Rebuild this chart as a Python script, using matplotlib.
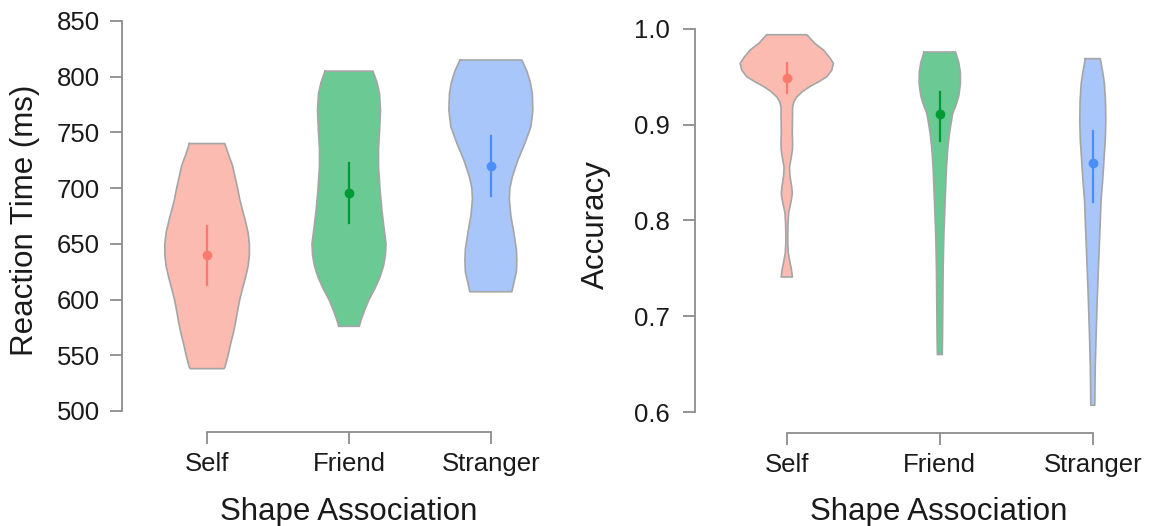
import numpy as np
import matplotlib
matplotlib.use("Agg")
import matplotlib.pyplot as plt

plt.rcParams['font.family'] = ['Liberation Sans', 'DejaVu Sans']

groups = ["Self", "Friend", "Stranger"]

# reaction time: violin outlines (value, half width in category units)
rt_y = {
    "Self": [740, 730, 720, 710, 700, 690, 680, 670, 660, 650, 640, 630, 620, 610, 600, 590, 580, 570, 560, 550, 540, 538],
    "Friend": [805, 795, 785, 770, 750, 735, 720, 700, 680, 665, 650, 640, 630, 620, 610, 600, 590, 580, 576],
    "Stranger": [815, 805, 795, 785, 770, 755, 740, 725, 710, 700, 690, 675, 660, 645, 635, 625, 615, 607],
}
rt_w = {
    "Self": [.125, .151, .180, .197, .215, .230, .250, .271, .289, .298, .298, .289, .271, .250, .230, .215, .201, .185, .165, .148, .127, .120],
    "Friend": [.169, .197, .215, .222, .215, .208, .208, .218, .232, .246, .261, .257, .243, .218, .183, .141, .109, .081, .073],
    "Stranger": [.218, .254, .278, .292, .296, .282, .239, .190, .151, .134, .130, .141, .162, .180, .183, .180, .162, .148],
}
rt_mean = [640, 696, 720]
rt_lo = [613, 669, 693]
rt_hi = [666, 723, 747]

# accuracy
acc_y = {
    "Self": [0.994, 0.985, 0.978, 0.970, 0.964, 0.957, 0.950, 0.945, 0.940, 0.935, 0.929, 0.924, 0.919,
             0.905, 0.891, 0.882, 0.874, 0.865, 0.856, 0.848, 0.842, 0.835, 0.828, 0.820, 0.808, 0.797,
             0.787, 0.776, 0.766, 0.757, 0.750, 0.741],
    "Friend": [0.976, 0.965, 0.955, 0.943, 0.930, 0.920, 0.912, 0.900, 0.891, 0.875, 0.856, 0.821, 0.787,
               0.752, 0.717, 0.682, 0.660],
    "Stranger": [0.969, 0.955, 0.943, 0.925, 0.905, 0.885, 0.863, 0.843, 0.821, 0.787, 0.752, 0.717, 0.682,
                 0.647, 0.607],
}
acc_w = {
    "Self": [.131, .183, .240, .281, .305, .294, .261, .209, .152, .105, .065, .046, .038,
             .037, .036, .038, .037, .028, .018, .020, .025, .032, .036, .028, .012, .008,
             .0065, .0065, .010, .020, .029, .037],
    "Friend": [.103, .124, .134, .135, .124, .105, .085, .072, .063, .052, .044, .035, .027,
               .022, .020, .018, .016],
    "Stranger": [.049, .065, .076, .083, .085, .082, .073, .065, .054, .046, .037, .029, .022,
                 .016, .013],
}
acc_mean = [0.949, 0.911, 0.860]
acc_lo = [0.933, 0.883, 0.819]
acc_hi = [0.964, 0.934, 0.893]

fill_cols = ['#FBBBB1', '#6BC994', '#A9C6FB']
pt_cols = ['#FA7B6E', '#009A35', '#4B8EF5']
edge_col = '#A5A5A5'
axis_col = '#8c8c8c'
text_col = '#1a1a1a'

W, H = 1154, 526
fig = plt.figure(figsize=(W / 100, H / 100), dpi=100)


def px_axes(x0, x1, ytop, ybot):
    return fig.add_axes([x0 / W, 1 - ybot / H, (x1 - x0) / W, (ybot - ytop) / H])


def draw(ax, ys, ws, means, lo, hi):
    for i, g in enumerate(groups):
        c = i + 1
        y = np.array(ys[g])
        w = np.array(ws[g])
        ax.fill_betweenx(y, c - w, c + w, facecolor=fill_cols[i], edgecolor='none', zorder=2)
        xs = np.concatenate([c - w, (c + w)[::-1], [(c - w)[0]]])
        yy = np.concatenate([y, y[::-1], [y[0]]])
        ax.plot(xs, yy, color=edge_col, lw=1.2, zorder=3, solid_joinstyle='round')
        ax.plot([c, c], [lo[i], hi[i]], color=pt_cols[i], lw=1.6, zorder=4)
        ax.plot(c, means[i], 'o', color=pt_cols[i], ms=6, zorder=5)


def style(ax, ylo, yhi, ticks, ticklabels, ylabel, ypad):
    for s in ['top', 'right']:
        ax.spines[s].set_visible(False)
    for s in ['left', 'bottom']:
        ax.spines[s].set_color(axis_col)
        ax.spines[s].set_linewidth(1.3)
    ax.spines['bottom'].set_position(('outward', 15))
    ax.spines['bottom'].set_bounds(1, 3)
    ax.spines['left'].set_bounds(ylo, yhi)
    ax.set_ylim(ylo, yhi)
    ax.set_yticks(ticks)
    ax.set_yticklabels(ticklabels)
    ax.set_xticks([1, 2, 3])
    ax.set_xticklabels(groups)
    ax.tick_params(axis='y', length=9, width=1.3, color=axis_col, labelsize=18.5,
                   labelcolor=text_col, pad=ypad)
    ax.tick_params(axis='x', length=8.5, width=1.3, color=axis_col, labelsize=18.5,
                   labelcolor=text_col, pad=6)
    ax.set_xlabel("Shape Association", fontsize=22.5, color=text_col)
    ax.set_ylabel(ylabel, fontsize=22.5, color=text_col)


# left panel: reaction time
ax1 = px_axes(122, 576, 21, 411)
ax1.set_xlim(0.4, 3.6)
draw(ax1, rt_y, rt_w, rt_mean, rt_lo, rt_hi)
rt_ticks = [500, 550, 600, 650, 700, 750, 800, 850]
style(ax1, 500, 850, rt_ticks, [str(t) for t in rt_ticks], "Reaction Time (ms)", 7)
ax1.xaxis.set_label_coords((349 - 122) / 454, (411 - 497) / 390)
ax1.yaxis.set_label_coords((40 - 122) / 454, 0.5 - (220 - 216) / 390)

# right panel: accuracy
ax2 = px_axes(695, 1154, 29, 412)
ax2.set_xlim(0.4, 0.4 + 459 / 153)
draw(ax2, acc_y, acc_w, acc_mean, acc_lo, acc_hi)
acc_ticks = [0.6, 0.7, 0.8, 0.9, 1.0]
style(ax2, 0.6, 1.0, acc_ticks, ["%.1f" % t for t in acc_ticks], "Accuracy", 9)
ax2.xaxis.set_label_coords((939 - 695) / 459, (412 - 497) / 383)
ax2.yaxis.set_label_coords((611 - 695) / 459, 0.5 + (220 - 224) / 383)

fig.savefig("out.png", dpi=100)
